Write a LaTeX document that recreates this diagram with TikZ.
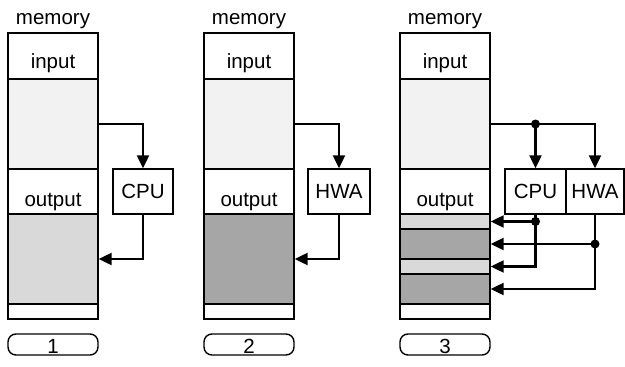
\documentclass[tikz,border=0pt]{standalone}
\usepackage{fontspec}
\setmainfont{Liberation Sans}
\usetikzlibrary{arrows.meta}
\definecolor{inputgray}{HTML}{F2F2F2}
\definecolor{lightout}{HTML}{D9D9D9}
\definecolor{darkout}{HTML}{A6A6A6}
\begin{document}
\begin{tikzpicture}
[x=1pt,y=-1pt,font=\fontsize{20.5}{24}\selectfont,
 memsec/.style={draw=black, line width=1.4pt, minimum width=90pt, inner sep=0pt},
 unitbox/.style={draw=black, line width=1.4pt, fill=white, minimum height=45pt, inner sep=0pt},
 flow/.style={line width=2.2pt, -{Triangle[length=13pt,width=12pt]}},
 junction/.style={circle, fill=black, inner sep=0pt, minimum size=9pt},
 stepno/.style={draw=black, line width=1.4pt, rounded corners=8pt, minimum width=90pt, minimum height=21pt, inner sep=0pt}]
\useasboundingbox (0,0) rectangle (625,367);
% the three memory columns
\foreach \i/\x in {1/53,2/249,3/445} {
  \node[memsec, minimum height=46pt] (top\i) at (\x,56) {};
  \node[memsec, minimum height=90pt, fill=inputgray] (in\i) at (\x,124) {};
  \node[memsec, minimum height=45pt] (mid\i) at (\x,191.5) {};
  \node[memsec, minimum height=15pt] (bot\i) at (\x,311.5) {};
  \node[anchor=base] (memlabel\i) at (\x,24) {memory};
  \node[anchor=base] (inlabel\i) at (\x,68) {input};
  \node[anchor=base] (outlabel\i) at (\x,206) {output};
  \node[stepno] (step\i) at (\x,344.5) {};
  \node[anchor=base] (stepnum\i) at (\x,353) {\i};
}
% output areas
\node[memsec, minimum height=90pt, fill=lightout] (out1) at (53,259) {};
\node[memsec, minimum height=90pt, fill=darkout] (out2) at (249,259) {};
\node[memsec, minimum height=15pt, fill=lightout] (s1) at (445,221.5) {};
\node[memsec, minimum height=30pt, fill=darkout] (s2) at (445,244) {};
\node[memsec, minimum height=15pt, fill=lightout] (s3) at (445,266.5) {};
\node[memsec, minimum height=30pt, fill=darkout] (s4) at (445,289) {};
% processing units
\node[unitbox, minimum width=60pt] (cpu1) at (143,191.5) {CPU};
\node[unitbox, minimum width=62pt] (hwa2) at (339,191.5) {HWA};
\node[unitbox, minimum width=61pt] (cpu3) at (535.5,191.5) {CPU};
\node[unitbox, minimum width=58pt] (hwa3) at (595,191.5) {HWA};
% 1 and 2
\draw[flow] (in1.east) -| (cpu1.north);
\draw[flow] (cpu1.south) |- (out1.east);
\draw[flow] (in2.east) -| (hwa2.north);
\draw[flow] (hwa2.south) |- (out2.east);
% 3
\draw[flow] (in3.east) -| (hwa3.north);
\node[junction] (split) at (cpu3.north |- in3.east) {};
\draw[flow] (split.center) -- (cpu3.north);
\draw[flow] (cpu3.south) |- (s3.east);
\draw[flow] (hwa3.south) |- (s4.east);
\node[junction] (cpudot) at (cpu3.south |- s1.east) {};
\node[junction] (hwadot) at (hwa3.south |- s2.east) {};
\draw[flow] (cpudot.center) -- (s1.east);
\draw[flow] (hwadot.center) -- (s2.east);
\end{tikzpicture}
\end{document}
